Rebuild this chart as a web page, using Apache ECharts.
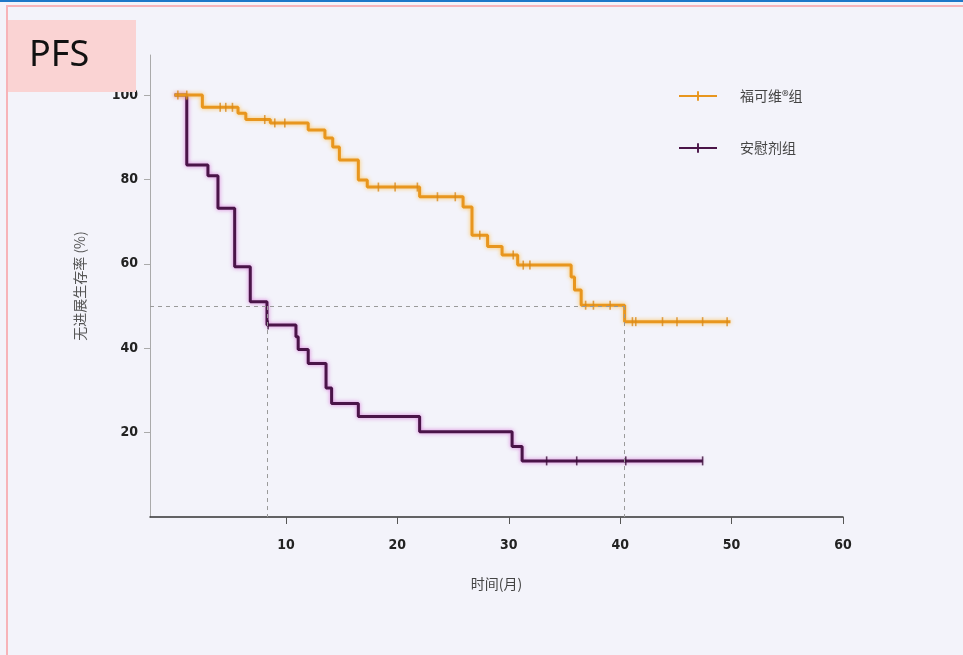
<!DOCTYPE html>
<html><head><meta charset="utf-8">
<script src="https://cdn.jsdelivr.net/npm/echarts@6/dist/echarts.min.js"></script>
<style>html,body{margin:0;padding:0;background:#F3F3FA}#c{width:963px;height:655px}</style>
</head><body><div id="c"></div>
<script>
// Kaplan-Meier step points [time (months), survival %]
const fuqTimes  = [0, 2.5, 5.7, 6.4, 8.6, 12.0, 13.5, 14.2, 14.8, 16.5, 17.3, 22.0, 25.9, 26.7, 28.1, 29.4, 30.8, 35.6, 35.9, 36.5, 40.4, 49.9];
const fuqValues = [100, 97.1, 95.7, 94.2, 93.4, 91.7, 89.8, 87.7, 84.6, 79.9, 78.2, 75.9, 73.5, 66.8, 64.1, 62.1, 59.7, 56.9, 53.8, 50.2, 46.3, 46.3];
const fuqCensor = [0.3, 1.1, 4.1, 4.6, 5.2, 8.1, 9.0, 9.9, 18.3, 19.8, 21.8, 23.6, 25.2, 27.4, 30.4, 31.3, 31.9, 36.9, 37.6, 39.1, 41.1, 41.4, 43.8, 45.1, 47.4, 49.6];

const plaTimes  = [0, 1.1, 3.0, 3.9, 5.4, 6.8, 8.3, 10.9, 11.1, 12.0, 13.6, 14.1, 16.5, 22.0, 30.3, 31.2, 47.4];
const plaValues = [100, 83.4, 80.9, 73.2, 59.3, 51.0, 45.5, 42.7, 39.7, 36.4, 30.6, 26.9, 23.8, 20.2, 16.7, 13.3, 13.3];
const plaCensor = [8.4, 33.4, 36.1, 40.5, 47.4];

const medianFuq = 40.4, medianPla = 8.3, medianLevel = 50;
const xTicks = [10, 20, 30, 40, 50, 60];
const yTicks = [20, 40, 60, 80, 100];
const names = ['福可维®组', '安慰剂组'];
const xName = '时间(月)', yName = '无进展生存率 (%)';

function pairs(t, v){ return t.map((x,i)=>[x, v[i]]); }
function survAt(t, v, x){ let s=v[0]; for(let i=0;i<t.length;i++){ if(t[i]<=x) s=v[i]; } return s; }
function cens(t, v, c){ return c.map(x=>[x, survAt(t, v, x)]); }

const XMIN = -2.2, YMAX = 109.5;
const numFont = '"Liberation Sans Narrow","DejaVu Sans Condensed","Arial Narrow",sans-serif';
const cjk = '"Noto Sans CJK SC","Noto Sans",sans-serif';
const orange = '#E8961E', purple = '#4A1448';
const legendIcon = 'path://M0,4h40v2H0z M19,0h2v10h-2z';

const chart = echarts.init(document.getElementById('c'));
chart.setOption({
  backgroundColor: '#F3F3FA',
  animation: false,
  grid: {left: 150, right: 120, top: 55, bottom: 138},
  legend: {
    orient: 'vertical', left: 674, top: 84, itemWidth: 38, itemHeight: 10, itemGap: 38,
    data: [{name: names[0], icon: legendIcon}, {name: names[1], icon: legendIcon}],
    textStyle: {fontFamily: cjk, fontSize: 14, color: '#444', padding: [0,0,0,18]}
  },
  xAxis: {
    type: 'value', min: XMIN, max: 60,
    name: xName, nameLocation: 'middle', nameGap: 60,
    nameTextStyle: {fontFamily: cjk, fontSize: 14, color: '#444'},
    axisLine: {onZero: false, lineStyle: {color: '#333', width: 1.5}},
    axisTick: {show: true, customValues: xTicks, length: 7, lineStyle: {color: '#555'}},
    axisLabel: {customValues: xTicks, margin: 21, fontFamily: numFont, fontWeight: 'bold', fontSize: 14, color: '#222'},
    splitLine: {show: false}
  },
  yAxis: {
    type: 'value', min: 0, max: YMAX,
    name: yName, nameLocation: 'middle', nameGap: 63, nameRotate: 90,
    nameTextStyle: {fontFamily: cjk, fontSize: 14, color: '#555'},
    axisLine: {show: true, onZero: false, lineStyle: {color: '#aaa', width: 1}},
    axisTick: {show: true, customValues: yTicks, length: 6, lineStyle: {color: '#aaa'}},
    axisLabel: {customValues: yTicks, margin: 12, fontFamily: numFont, fontWeight: 'bold', fontSize: 14, color: '#222'},
    splitLine: {show: false}
  },
  series: [
    {
      name: names[0], type: 'line', step: 'end', showSymbol: false, symbol: 'none',
      data: pairs(fuqTimes, fuqValues), z: 3,
      lineStyle: {color: orange, width: 3, shadowColor: 'rgba(255,190,70,0.9)', shadowBlur: 4},
      itemStyle: {color: orange},
      markLine: {
        silent: true, symbol: 'none', label: {show: false},
        lineStyle: {type: [4,4], color: '#9a9a9a', width: 1, shadowBlur: 0},
        data: [
          [{coord: [XMIN, medianLevel]}, {coord: [medianFuq, medianLevel]}],
          [{coord: [medianFuq, medianLevel]}, {coord: [medianFuq, 0]}],
          [{coord: [medianPla, medianLevel]}, {coord: [medianPla, 0]}]
        ]
      }
    },
    {
      name: names[1], type: 'line', step: 'end', showSymbol: false, symbol: 'none',
      data: pairs(plaTimes, plaValues), z: 2,
      lineStyle: {color: purple, width: 3, shadowColor: 'rgba(210,90,210,0.8)', shadowBlur: 4},
      itemStyle: {color: purple}
    },
    {
      name: 'c1', type: 'scatter', symbol: 'rect', symbolSize: [1.6, 9],
      data: cens(fuqTimes, fuqValues, fuqCensor), itemStyle: {color: '#D98A1A'}, z: 4, silent: true
    },
    {
      name: 'c2', type: 'scatter', symbol: 'rect', symbolSize: [1.6, 9],
      data: cens(plaTimes, plaValues, plaCensor), itemStyle: {color: '#3A0E38'}, z: 4, silent: true
    }
  ],
  graphic: [
    {type: 'rect', z: 100, shape: {x: 0, y: 0, width: 963, height: 2}, style: {fill: '#1E78C8'}},
    {type: 'rect', z: 100, shape: {x: 6, y: 5, width: 957, height: 2}, style: {fill: '#F7B3B8'}},
    {type: 'rect', z: 100, shape: {x: 6, y: 5, width: 2, height: 650}, style: {fill: '#F7B3B8'}},
    {type: 'rect', z: 100, shape: {x: 8, y: 20, width: 128, height: 72}, style: {fill: '#FAD3D3'}},
    {type: 'text', z: 101, x: 29, y: 56, style: {text: 'PFS', fontSize: 36, fontFamily: '"Noto Sans","Open Sans",sans-serif', fill: '#111', verticalAlign: 'middle'}}
  ]
});
</script></body></html>
